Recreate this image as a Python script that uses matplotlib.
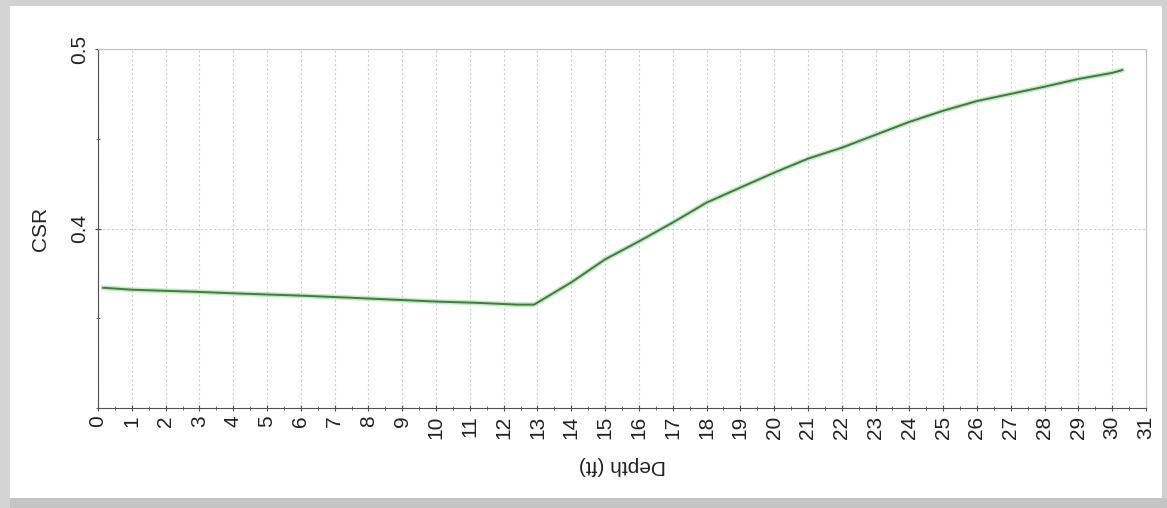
import numpy as np
import matplotlib.pyplot as plt
from matplotlib.patches import Rectangle
from matplotlib.ticker import MultipleLocator

plt.rcParams['font.family'] = ['Liberation Sans', 'DejaVu Sans']

# depth (ft) and CSR
depth = [0.15, 1.0, 2.8, 4.3, 6.0, 7.4, 8.7, 10.0, 11.2, 12.4, 12.9,
         14.0, 15.0, 16.0, 17.0, 18.0, 19.0, 20.0, 21.0, 22.0, 23.0,
         24.0, 25.0, 26.0, 27.0, 28.0, 29.0, 30.0, 30.3]
csr = [0.3670, 0.3659, 0.3648, 0.3637, 0.3626, 0.3615, 0.3604, 0.3593, 0.3586, 0.3576, 0.3576,
       0.3700, 0.3828, 0.3928, 0.4033, 0.4144, 0.4228, 0.4311, 0.4389, 0.4450, 0.4522,
       0.4594, 0.4656, 0.4710, 0.4750, 0.4790, 0.4833, 0.4867, 0.4883]

fig = plt.figure(figsize=(11.67, 5.08), dpi=100)
ax = fig.add_axes([98/1167, 1-408/508, (1146-98)/1167, (408-49)/508])

# grey frame around the picture (thin on top, heavier left/bottom)
fig.patches.append(Rectangle((0, 0), 1, 1, transform=fig.transFigure, fill=False,
                             edgecolor='#d0d0d0', linewidth=8, zorder=-1))
fig.patches.append(Rectangle((0, 0), 1, 10/508, transform=fig.transFigure,
                             facecolor='#c4c4c4', edgecolor='none', zorder=-1))
fig.patches.append(Rectangle((0, 0), 10/1167, 1, transform=fig.transFigure,
                             facecolor='#d4d4d4', edgecolor='none', zorder=-1))

ax.plot(depth, csr, color='#c4e6c4', linewidth=3.5, solid_capstyle='round')
ax.plot(depth, csr, color='#3c7f3c', linewidth=1.4)

ax.set_xlim(0, 31)
ax.set_ylim(0.3, 0.5)
ax.xaxis.set_major_locator(MultipleLocator(1))
ax.xaxis.set_minor_locator(MultipleLocator(0.5))
ax.set_yticks([0.4, 0.5])
ax.set_yticklabels(['0.4', '0.5'])
ax.yaxis.set_minor_locator(MultipleLocator(0.05))

ax.grid(True, which='major', color='#d0d0d0', linestyle=(0, (2, 2)), linewidth=0.8)
for s in ['top', 'right']:
    ax.spines[s].set_color('#c0c0c0')
for s in ['left', 'bottom']:
    ax.spines[s].set_color('#505050')

ax.tick_params(axis='x', which='major', direction='inout', length=5, color='#505050',
               labelsize=15, labelrotation=90, pad=3, labelcolor='#222222')
ax.tick_params(axis='x', which='minor', direction='inout', length=3, color='#505050')
ax.tick_params(axis='y', which='major', direction='inout', length=5, color='#505050',
               labelsize=15, labelrotation=90, pad=4, labelcolor='#222222')
ax.tick_params(axis='y', which='minor', direction='inout', length=3, color='#505050')
for lbl in ax.get_yticklabels():
    lbl.set_va('center')

ax.set_ylabel('CSR', fontsize=15, labelpad=2, color='#222222')
ax.yaxis.set_label_coords(-0.046, 0.5)
ax.set_xlabel('Depth (ft)', fontsize=15, rotation=180, color='#222222')
ax.xaxis.set_label_coords(0.5, -0.135)

fig.savefig('out.png', dpi=100)
